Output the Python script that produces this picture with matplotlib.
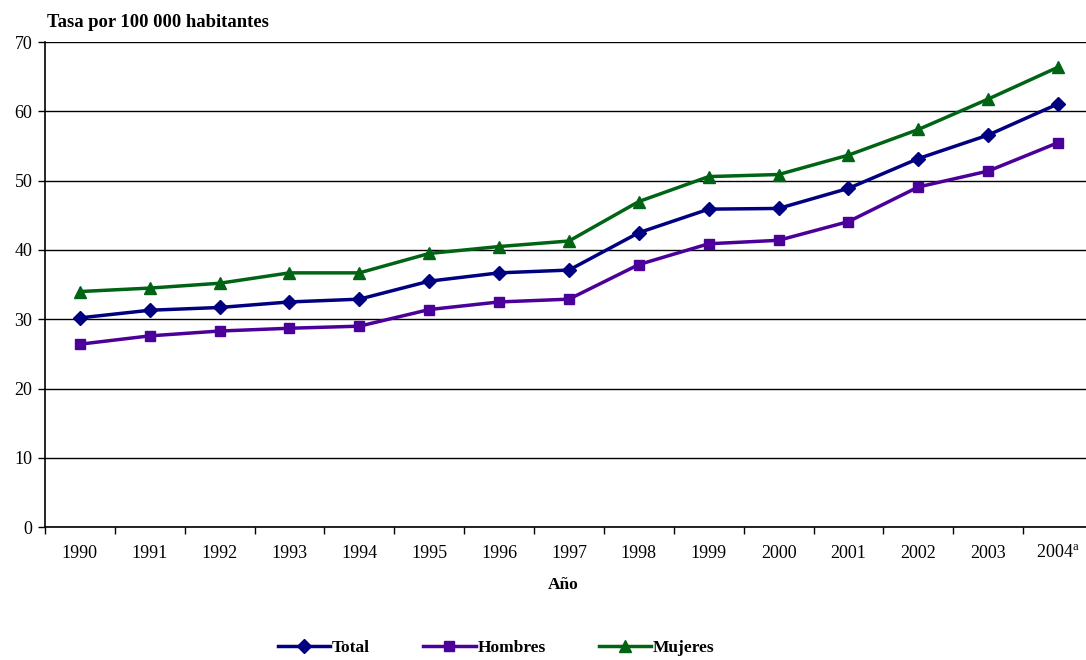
import matplotlib
matplotlib.use("Agg")
import matplotlib.pyplot as plt
import numpy as np

plt.rcParams['font.family'] = ['Liberation Serif', 'DejaVu Serif']
plt.rcParams['mathtext.fontset'] = 'custom'
plt.rcParams['mathtext.rm'] = 'Liberation Serif'

years = ["1990", "1991", "1992", "1993", "1994", "1995", "1996", "1997",
         "1998", "1999", "2000", "2001", "2002", "2003", "2004$^{\\mathrm{a}}$"]
total = [30.2, 31.3, 31.7, 32.5, 32.9, 35.5, 36.7, 37.1,
         42.5, 45.9, 46.0, 48.9, 53.2, 56.6, 61.1]
hombres = [26.4, 27.6, 28.3, 28.7, 29.0, 31.4, 32.5, 32.9,
           37.9, 40.9, 41.4, 44.1, 49.1, 51.4, 55.5]
mujeres = [34.0, 34.5, 35.2, 36.7, 36.7, 39.5, 40.5, 41.3,
           47.0, 50.6, 50.9, 53.7, 57.4, 61.8, 66.4]


def main():
    fig = plt.figure(figsize=(10.86, 6.6), dpi=100)
    ax = fig.add_axes([0.0414, 0.2015, 0.9586, 0.7345])
    x = np.arange(len(years))

    ax.plot(x, total, color='#000080', lw=2.5, marker='D', ms=7, label='Total', zorder=3)
    ax.plot(x, hombres, color='#4B0099', lw=2.5, marker='s', ms=7.5, label='Hombres', zorder=3)
    ax.plot(x, mujeres, color='#006414', lw=2.5, marker='^', ms=9, label='Mujeres', zorder=3)

    ax.set_yticks(range(0, 71, 10))
    ax.yaxis.grid(True, color='black', lw=1)
    ax.set_axisbelow(True)

    ax.set_xticks(x)
    ax.set_xticklabels(years)
    ax.set_xticks(np.arange(-0.5, 15, 1), minor=True)
    ax.tick_params(axis='x', which='major', length=0, pad=13, labelsize=13)
    ax.tick_params(axis='x', which='minor', length=5, width=1, direction='out')
    ax.tick_params(axis='y', length=5, width=1, labelsize=13, pad=4)

    # limits last, the minor ticks would widen them otherwise
    ax.set_ylim(0, 70)
    ax.set_xlim(-0.5, 14.4)

    for s in ['top', 'right']:
        ax.spines[s].set_visible(False)
    ax.spines['left'].set_linewidth(1.2)
    ax.spines['bottom'].set_linewidth(1.2)

    fig.text(0.043, 0.966, 'Tasa por 100 000 habitantes', fontsize=13.4,
             fontweight='bold', va='center', ha='left')
    fig.text(0.519, 0.113, 'Año', fontsize=12.5, fontweight='bold',
             va='center', ha='center')

    fig.legend(loc='center', bbox_to_anchor=(0.457, 0.018), ncol=3, frameon=False,
               prop={'weight': 'bold', 'size': 12.5}, handlelength=3.0,
               columnspacing=3.1, handletextpad=0.1)

    fig.savefig('out.png', dpi=100)


if __name__ == '__main__':
    main()
